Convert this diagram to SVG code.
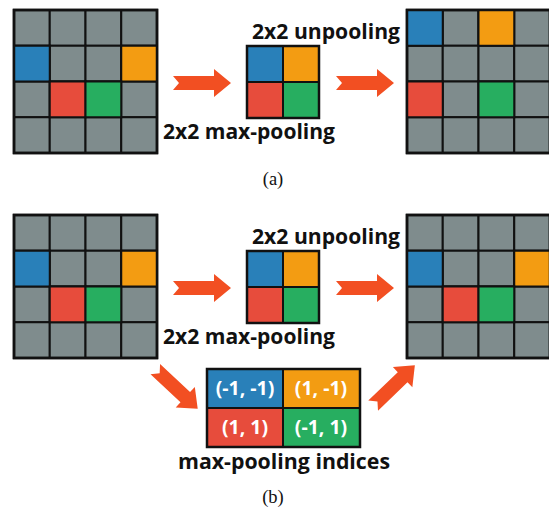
<svg xmlns="http://www.w3.org/2000/svg" xmlns:xlink="http://www.w3.org/1999/xlink" width="549" height="512" viewBox="0 0 549 512">
<style>
.g{fill:#7f8c8d}
.b{fill:#2980b9}
.o{fill:#f39c12}
.r{fill:#e74c3c}
.n{fill:#27ae60}
.cell{stroke:#111;stroke-width:2}
.frame{fill:none;stroke:#111;stroke-width:2.5}
.lbl{font-family:"Open Sans","Noto Sans","DejaVu Sans",sans-serif;font-weight:bold;font-size:21.5px;fill:#111}
.idx{font-family:"Open Sans","Noto Sans","DejaVu Sans",sans-serif;font-weight:bold;font-size:19.5px;fill:#fff;text-anchor:middle}
.cap{font-family:"Liberation Serif","Times New Roman",serif;font-size:18.5px;fill:#111;text-anchor:middle}
.arr{fill:#f24f22}
</style>
<defs>
<path id="arrow" d="M-29,-7 L12,-7 L12,-14 L29,0 L12,14 L12,7 L-29,7 L-23,0 Z"/>
<g id="grid4">
<rect class="cell g" x="0" y="0" width="35.75" height="35.75"/>
<rect class="cell g" x="35.75" y="0" width="35.75" height="35.75"/>
<rect class="cell g" x="71.5" y="0" width="35.75" height="35.75"/>
<rect class="cell g" x="107.25" y="0" width="35.75" height="35.75"/>
<rect class="cell g" x="0" y="35.75" width="35.75" height="35.75"/>
<rect class="cell g" x="35.75" y="35.75" width="35.75" height="35.75"/>
<rect class="cell g" x="71.5" y="35.75" width="35.75" height="35.75"/>
<rect class="cell g" x="107.25" y="35.75" width="35.75" height="35.75"/>
<rect class="cell g" x="0" y="71.5" width="35.75" height="35.75"/>
<rect class="cell g" x="35.75" y="71.5" width="35.75" height="35.75"/>
<rect class="cell g" x="71.5" y="71.5" width="35.75" height="35.75"/>
<rect class="cell g" x="107.25" y="71.5" width="35.75" height="35.75"/>
<rect class="cell g" x="0" y="107.25" width="35.75" height="35.75"/>
<rect class="cell g" x="35.75" y="107.25" width="35.75" height="35.75"/>
<rect class="cell g" x="71.5" y="107.25" width="35.75" height="35.75"/>
<rect class="cell g" x="107.25" y="107.25" width="35.75" height="35.75"/>
<rect class="frame" x="0" y="0" width="143" height="143"/>
</g>
<g id="pool2">
<rect class="cell b" x="0" y="0" width="36" height="36"/>
<rect class="cell o" x="36" y="0" width="36" height="36"/>
<rect class="cell r" x="0" y="36" width="36" height="36"/>
<rect class="cell n" x="36" y="36" width="36" height="36"/>
<rect class="frame" x="0" y="0" width="72" height="72"/>
</g>
</defs>

<g id="a-input" transform="translate(14,10)">
<use xlink:href="#grid4"/>
<rect class="cell b" x="0" y="35.75" width="35.75" height="35.75"/>
<rect class="cell o" x="107.25" y="35.75" width="35.75" height="35.75"/>
<rect class="cell r" x="35.75" y="71.5" width="35.75" height="35.75"/>
<rect class="cell n" x="71.5" y="71.5" width="35.75" height="35.75"/>
<rect class="frame" x="0" y="0" width="143" height="143"/>
</g>
<g id="a-pooled" transform="translate(247,46)"><use xlink:href="#pool2"/></g>
<g id="a-output" transform="translate(407,10)">
<use xlink:href="#grid4"/>
<rect class="cell b" x="0" y="0" width="35.75" height="35.75"/>
<rect class="cell o" x="71.5" y="0" width="35.75" height="35.75"/>
<rect class="cell r" x="0" y="71.5" width="35.75" height="35.75"/>
<rect class="cell n" x="71.5" y="71.5" width="35.75" height="35.75"/>
<rect class="frame" x="0" y="0" width="143" height="143"/>
</g>
<g id="a-labels">
<text class="lbl" x="252" y="39" textLength="148" lengthAdjust="spacingAndGlyphs">2x2 unpooling</text>
<text class="lbl" x="163" y="139" textLength="172" lengthAdjust="spacingAndGlyphs">2x2 max-pooling</text>
<text class="cap" x="273" y="185">(a)</text>
</g>

<g id="b-input" transform="translate(14,215)">
<use xlink:href="#grid4"/>
<rect class="cell b" x="0" y="35.75" width="35.75" height="35.75"/>
<rect class="cell o" x="107.25" y="35.75" width="35.75" height="35.75"/>
<rect class="cell r" x="35.75" y="71.5" width="35.75" height="35.75"/>
<rect class="cell n" x="71.5" y="71.5" width="35.75" height="35.75"/>
<rect class="frame" x="0" y="0" width="143" height="143"/>
</g>
<g id="b-pooled" transform="translate(247,251)"><use xlink:href="#pool2"/></g>
<g id="b-output" transform="translate(407,215)">
<use xlink:href="#grid4"/>
<rect class="cell b" x="0" y="35.75" width="35.75" height="35.75"/>
<rect class="cell o" x="107.25" y="35.75" width="35.75" height="35.75"/>
<rect class="cell r" x="35.75" y="71.5" width="35.75" height="35.75"/>
<rect class="cell n" x="71.5" y="71.5" width="35.75" height="35.75"/>
<rect class="frame" x="0" y="0" width="143" height="143"/>
</g>
<g id="b-indices">
<rect class="cell b" x="207" y="369" width="76" height="39"/>
<rect class="cell o" x="283" y="369" width="77" height="39"/>
<rect class="cell r" x="207" y="408" width="76" height="39"/>
<rect class="cell n" x="283" y="408" width="77" height="39"/>
<rect class="frame" x="207" y="369" width="153" height="78"/>
<text class="idx" x="245" y="395">(-1, -1)</text>
<text class="idx" x="321" y="395">(1, -1)</text>
<text class="idx" x="245" y="434">(1, 1)</text>
<text class="idx" x="321" y="434">(-1, 1)</text>
</g>
<g id="b-labels">
<text class="lbl" x="252" y="244" textLength="148" lengthAdjust="spacingAndGlyphs">2x2 unpooling</text>
<text class="lbl" x="163" y="344" textLength="172" lengthAdjust="spacingAndGlyphs">2x2 max-pooling</text>
<text class="lbl" x="178" y="469" textLength="212" lengthAdjust="spacingAndGlyphs">max-pooling indices</text>
<text class="cap" x="273" y="503">(b)</text>
</g>

<g id="connectors" class="arr">
<use xlink:href="#arrow" transform="translate(202,83)"/>
<use xlink:href="#arrow" transform="translate(365,83)"/>
<use xlink:href="#arrow" transform="translate(202,288)"/>
<use xlink:href="#arrow" transform="translate(365,288)"/>
<use xlink:href="#arrow" transform="translate(176.5,389) rotate(43)"/>
<use xlink:href="#arrow" transform="translate(394,385.5) rotate(-44)"/>
</g>
</svg>
